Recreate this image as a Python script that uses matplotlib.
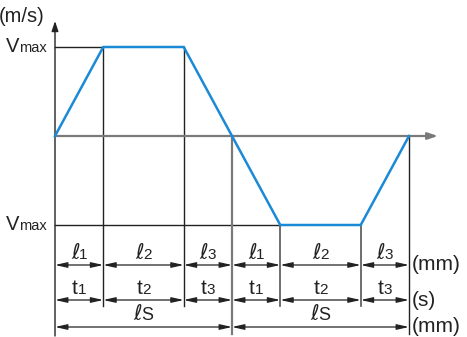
import matplotlib
matplotlib.use('Agg')
import matplotlib.pyplot as plt
from matplotlib.offsetbox import TextArea, HPacker, AnnotationBbox

plt.rcParams['font.family'] = ['Liberation Sans', 'DejaVu Sans']
plt.rcParams['mathtext.fontset'] = 'dejavusans'

# durations of accel / constant / decel phases (arbitrary units), peak speed
seg_t = [3, 5, 3]
v_max = 1.0
seg_sub = ['1', '2', '3']
units = ['(mm)', '(s)', '(mm)']

# velocity profile: forward move then return move
t0, t1, t2 = seg_t
half = t0 + t1 + t2
time = [0, t0, t0 + t1, half, half + t0, half + t0 + t1, 2 * half]
vel = [0, v_max, v_max, 0, -v_max, -v_max, 0]

# px -> data helpers (figure is laid out in pixels)
sx = 354.0 / (2 * half)
sy = 89.0


def X(px):
    return (px - 55) / sx


def Y(py):
    return (136 - py) / sy


fig = plt.figure(figsize=(4.67, 3.37), dpi=100)
ax = fig.add_axes([0, 0, 1, 1])
ax.axis('off')
ax.set_xlim(X(0), X(467))
ax.set_ylim(Y(337), Y(0))

dark = '#222222'
grey = '#7a7a7a'
blue = '#1a8ad6'

# axes
ax.annotate('', xy=(X(438), 0), xytext=(0, 0),
            arrowprops=dict(arrowstyle='-|>,head_length=0.6,head_width=0.2',
                            color=grey, lw=1.6, shrinkA=0, shrinkB=0, mutation_scale=10))
ax.annotate('', xy=(0, Y(21)), xytext=(0, Y(336)),
            arrowprops=dict(arrowstyle='-|>,head_length=0.6,head_width=0.2',
                            color=dark, lw=1.0, shrinkA=0, shrinkB=0, mutation_scale=10))

# Vmax reference lines
ax.plot([0, time[1]], [v_max, v_max], color=dark, lw=1.0)
ax.plot([0, time[4]], [-v_max, -v_max], color=dark, lw=1.0)

# vertical extension lines
row_l, row_t, row_s = Y(265), Y(300), Y(327)
ax.plot([time[1]] * 2, [v_max, Y(306)], color=dark, lw=1.0)
ax.plot([time[2]] * 2, [v_max, Y(306)], color=dark, lw=1.0)
ax.plot([time[3]] * 2, [0, Y(334)], color=grey, lw=1.6)
ax.plot([time[4]] * 2, [-v_max, Y(306)], color='#555555', lw=1.2)
ax.plot([time[5]] * 2, [-v_max, Y(306)], color='#555555', lw=1.2)
ax.plot([time[6]] * 2, [0, Y(334)], color=dark, lw=1.0)

# speed profile
ax.plot(time, vel, color=blue, lw=1.8, solid_joinstyle='miter', zorder=5)


def dim(xa, xb, y):
    ax.annotate('', xy=(xb, y), xytext=(xa, y),
                arrowprops=dict(arrowstyle='<|-|>,head_length=0.8,head_width=0.18',
                                color=dark, lw=0.9, shrinkA=0, shrinkB=0,
                                mutation_scale=9))


def label(x, y, main, sub, align=(0.5, 0.5), size=12, subsize=9, sep=0):
    box = HPacker(children=[TextArea(main, textprops=dict(size=size, color='#222')),
                            TextArea(sub, textprops=dict(size=subsize, color='#222'))],
                  align='baseline', pad=0, sep=sep)
    ab = AnnotationBbox(box, (x, y), frameon=False, box_alignment=align, pad=0)
    ax.add_artist(ab)


ell = r'$\ell$'

# dimension rows
for k in range(6):
    xa, xb = time[k], time[k + 1]
    dim(xa, xb, row_l)
    dim(xa, xb, row_t)
    label((xa + xb) / 2, Y(253), ell, seg_sub[k % 3], size=15, subsize=11, sep=-1)
    label((xa + xb) / 2, Y(288), 't', seg_sub[k % 3], size=15, subsize=11)
for xa, xb in [(0, half), (half, 2 * half)]:
    dim(xa, xb, row_s)
    label((xa + xb) / 2, Y(314), ell, 'S', size=15, subsize=13, sep=-1)

# units
for u, r in zip(units, [row_l, row_t, row_s]):
    ax.text(X(412), r, u, fontsize=15, color='#222', va='center', ha='left')

label(X(47), v_max, 'V', 'max', align=(1, 0.5), size=14.5, subsize=10.5)
label(X(47), -v_max, 'V', 'max', align=(1, 0.5), size=14.5, subsize=10.5)
ax.text(X(-1), Y(16), '(m/s)', fontsize=14.5, color='#222', va='center', ha='left')

fig.savefig('out.png', dpi=100)
